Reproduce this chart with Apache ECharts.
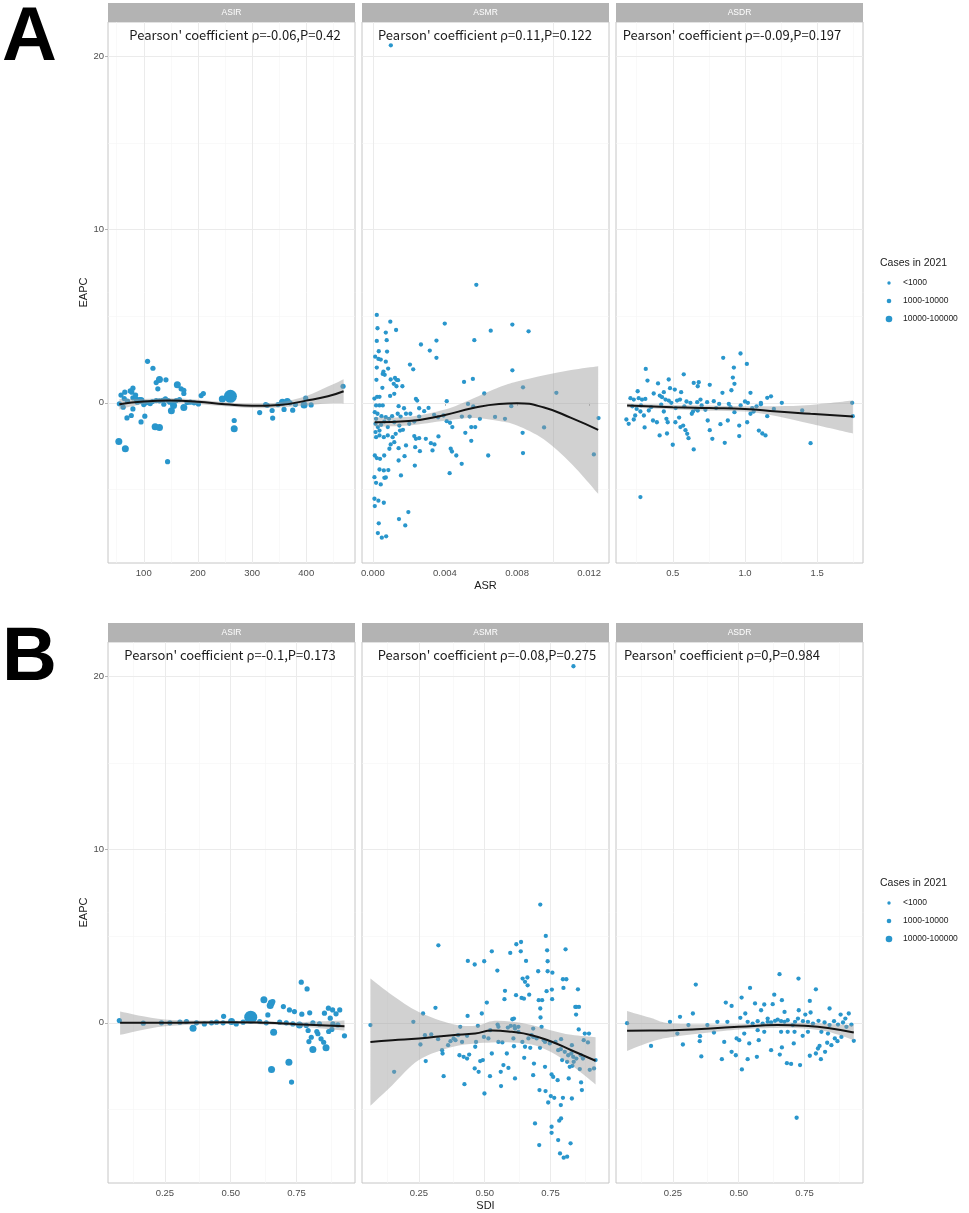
<!DOCTYPE html>
<html>
<head>
<meta charset="utf-8" />
<title>EAPC vs ASR / SDI</title>
<script src="https://cdn.jsdelivr.net/npm/echarts@6/dist/echarts.min.js"></script>
<style>
  html, body { margin: 0; padding: 0; background: #fff; }
  #chart { width: 969px; height: 1213px; }
</style>
</head>
<body>
<div id="chart"></div>
<script>
// ---------- data ----------
const panelNames = ['ASIR', 'ASMR', 'ASDR'];
const pearsonA = ["Pearson' coefficient ρ=-0.06,P=0.42", "Pearson' coefficient ρ=0.11,P=0.122", "Pearson' coefficient ρ=-0.09,P=0.197"];
const pearsonB = ["Pearson' coefficient ρ=-0.1,P=0.173", "Pearson' coefficient ρ=-0.08,P=0.275", "Pearson' coefficient ρ=0,P=0.984"];
const legendTitle = 'Cases in 2021';
const legendLabels = ['<1000', '1000-10000', '10000-100000'];

const yMajor = [0, 10, 20];
const yMinor = [-5, 5, 15];
const xMajorAsir = [100, 200, 300, 400];
const xMinorAsir = [50, 150, 250, 350, 450];
const xMajorAsmr = [0, 0.004, 0.008, 0.012];
const xMinorAsmr = [0.002, 0.006, 0.010];
const xMajorAsdr = [0.5, 1.0, 1.5];
const xMinorAsdr = [0.25, 0.75, 1.25, 1.75];
const xMajorSdi = [0.25, 0.5, 0.75];
const xMinorSdi = [0.125, 0.375, 0.625, 0.875];

// points: [x, EAPC, size class]
const asirA = [
  [54,-2.23,2],[66,-2.65,2],[55,-0.05,1],[107,2.4,1],[117,2.0,1],[129,1.35,2],[123,1.17,1],[141,1.33,1],
  [126,0.81,1],[162,1.04,2],[169,0.81,1],[174,0.73,1],[174,0.54,1],[65,0.62,1],[75,0.69,1],[80,0.85,1],
  [78,0.62,1],[64,0.25,1],[80,0.29,1],[86,0.23,1],[92,0.19,1],[95,0.13,2],[62,-0.25,1],[80,-0.35,1],
  [69,-0.87,1],[77,-0.73,1],[102,-0.77,1],[95,-1.1,1],[121,-1.38,2],[129,-1.42,2],[144,-3.4,1],[151,-0.46,2],
  [174,-0.27,2],[104,0,1],[110,0,1],[116,0.08,1],[123,0.13,1],[129,0.12,1],[135,0.15,1],[140,0.23,1],
  [145,0.13,1],[148,0.04,1],[154,0.04,1],[160,0.13,1],[166,0.19,1],[206,0.42,1],[210,0.54,1],[193,0,1],
  [201,-0.06,1],[260,0.38,3],[245,0.23,2],[267,-1.02,1],[267,-1.5,2],[314,-0.56,1],[337,-0.44,1],[338,-0.88,1],
  [356,0.04,2],[365,0.08,2],[359,-0.38,1],[375,-0.42,1],[396,-0.12,2],[399,0.27,1],[409,-0.12,1],[468,0.96,1],
  [325,-0.1,1],[328,-0.14,1],[70,0.1,1],[88,0.04,1],[100,-0.1,1],[112,-0.04,1],[137,-0.08,1],[155,-0.15,2],
  [180,0.02,1],[186,0.04,1],[370,0,1],[380,-0.1,1],[348,-0.1,1],[58,0.45,1],[85,0.45,1]
];
const asmrA = [
  [0.0010,20.65],[0.00574,6.82],
  [0.00022,5.08],[0.00097,4.69],[0.00026,4.31],[0.00129,4.21],[0.00072,4.06],[0.00022,3.58],[0.00077,3.62],
  [0.00399,4.58],[0.00774,4.52],[0.00864,4.13],[0.00654,4.17],[0.00353,3.6],[0.00563,3.62],[0.00267,3.37],
  [0.00316,3.02],[0.00353,2.6],[0.00033,2.98],[0.00079,2.96],[0.00013,2.67],[0.00031,2.54],[0.00044,2.5],
  [0.00072,2.38],[0.00022,2.04],[0.00085,1.98],[0.00206,2.21],[0.00224,1.94],[0.00774,1.88],[0.00059,1.81],
  [0.00055,1.67],[0.00066,1.62],[0.0002,1.33],[0.00099,1.35],[0.00123,1.44],[0.00131,1.33],[0.0014,1.31],
  [0.00116,1.1],[0.00053,0.87],[0.00131,0.96],[0.00164,0.96],[0.00506,1.21],[0.00555,1.38],[0.00833,0.9],
  [0.00618,0.54],[0.01018,0.58],[0.00009,0.25],[0.00024,0.35],[0.00037,0.35],[0.00096,0.4],[0.00119,0.52],
  [0.00239,0.23],[0.00246,0.13],[0.0041,0.1],[0.00018,-0.15],[0.00037,-0.15],[0.00055,-0.15],[0.00143,-0.19],
  [0.00173,-0.31],[0.00257,-0.31],[0.00309,-0.29],[0.00528,-0.06],[0.00557,-0.21],[0.00768,-0.19],
  [0.00011,-0.54],[0.00026,-0.63],[0.00048,-0.77],[0.00072,-0.83],[0.0009,-0.92],[0.00107,-0.77],[0.00138,-0.63],
  [0.00154,-0.79],[0.00184,-0.63],[0.00208,-0.63],[0.0023,-1.08],[0.00257,-0.79],[0.00285,-0.48],[0.0034,-0.69],
  [0.00362,-0.83],[0.00392,-0.73],[0.0041,-1.06],[0.00428,-1.15],[0.00441,-1.4],[0.00494,-0.79],[0.00537,-0.79],
  [0.00594,-0.92],[0.00678,-0.81],[0.00733,-0.92],[0.0095,-1.42],[0.01252,-0.88],[0.00513,-1.73],[0.00546,-1.4],
  [0.00568,-1.4],[0.00831,-1.73],[0.00015,-1.69],[0.00018,-1.98],[0.00037,-1.88],[0.00061,-1.98],[0.00083,-1.88],
  [0.0011,-1.98],[0.00127,-1.79],[0.00151,-1.6],[0.00167,-1.56],[0.00184,-2.46],[0.0023,-1.92],[0.00239,-2.08],
  [0.00257,-2.04],[0.00294,-2.08],[0.00322,-2.33],[0.00364,-1.94],[0.00235,-2.56],[0.00261,-2.79],[0.00331,-2.75],
  [0.00342,-2.4],[0.00432,-2.65],[0.00439,-2.81],[0.00463,-3.04],[0.00493,-3.52],[0.00426,-4.06],[0.00546,-2.19],
  [0.0064,-3.04],[0.00833,-2.9],[0.01226,-2.98],[0.00011,-3.04],[0.00022,-3.19],[0.0004,-3.23],[0.00063,-3.04],
  [0.00092,-2.65],[0.00099,-2.4],[0.00119,-2.27],[0.00143,-2.62],[0.00176,-3.08],[0.00143,-3.33],[0.00233,-3.62],
  [0.00156,-4.19],[0.00037,-3.85],[0.00061,-3.9],[0.00086,-3.88],[0.00009,-4.29],[0.00018,-4.62],[0.00044,-4.71],
  [0.00064,-4.33],[0.00072,-4.31],[0.00009,-5.54],[0.00031,-5.65],[0.00061,-5.77],[0.00011,-5.96],[0.00197,-6.31],
  [0.00145,-6.71],[0.0018,-7.08],[0.00033,-6.96],[0.00028,-7.52],[0.0005,-7.79],[0.00074,-7.71],
  [0.00015,-1.21],[0.00028,-1.4],[0.00046,-1.27],[0.00064,-1.08],[0.00083,-1.4],[0.00119,-1.12],[0.00147,-1.31],
  [0.00202,-1.21],[0.00018,-0.92],[0.00037,-1.6]
];
const asdrA = [
  [0.276,-5.44],[0.313,1.96],[0.325,1.29],[0.398,1.12],[0.472,1.35],[0.576,1.65],[0.481,0.85],[0.514,0.77],
  [0.558,0.62],[0.645,1.15],[0.68,1.19],[0.673,0.96],[0.756,1.04],[0.849,2.6],[0.969,2.85],[0.923,2.04],
  [0.916,1.46],[0.927,1.1],[0.906,0.73],[1.013,2.25],[1.038,0.58],[0.844,0.58],[0.784,0.1],[0.257,0.67],
  [0.207,0.27],[0.23,0.19],[0.264,0.27],[0.287,0.19],[0.31,0.23],[0.368,0.54],[0.41,0.42],[0.426,0.33],
  [0.438,0.62],[0.45,0.19],[0.472,0.13],[0.49,0],[0.53,0.13],[0.55,0.19],[0.595,0.08],[0.622,0],[0.669,0.04],
  [0.692,0.19],[0.738,0.04],[0.821,-0.06],[0.888,-0.06],[1.0,0.08],[1.02,0],[1.11,0],[1.18,0.38],[1.154,0.29],
  [1.255,0],[1.11,-0.08],[1.396,-0.44],[1.742,0],[1.746,-0.77],
  [0.179,-0.96],[0.195,-1.21],[0.23,-0.96],[0.24,-0.73],[0.276,-0.5],[0.3,-0.73],[0.305,-1.42],[0.334,-0.44],
  [0.363,-1.02],[0.39,-1.12],[0.409,-1.88],[0.438,-0.5],[0.456,-0.92],[0.465,-1.12],[0.46,-1.77],[0.5,-2.42],
  [0.518,-1.12],[0.544,-0.85],[0.553,-1.4],[0.572,-1.31],[0.588,-1.58],[0.6,-1.79],[0.609,-2.04],[0.645,-2.69],
  [0.632,-0.63],[0.64,-0.5],[0.673,-0.44],[0.726,-0.4],[0.742,-1.02],[0.756,-1.58],[0.774,-2.08],[0.83,-1.23],
  [0.86,-2.31],[0.881,-1.02],[0.927,-0.54],[0.96,-1.31],[0.96,-1.92],[1.015,-1.12],[1.038,-0.63],[1.06,-0.5],
  [1.096,-1.6],[1.12,-1.77],[1.142,-1.88],[1.154,-0.77],[1.454,-2.33],
  [0.22,-0.2],[0.25,-0.35],[0.28,-0.15],[0.35,-0.25],[0.42,-0.1],[0.52,-0.3],[0.58,-0.2],[0.66,-0.35],
  [0.7,-0.15],[0.8,-0.3],[0.9,-0.25],[0.97,-0.15],[1.05,-0.3],[1.08,-0.2],[1.2,-0.35]
];

const asirB = [
  [0.077,0.13,1],[0.768,2.35,1],[0.79,1.96,1],[0.626,1.33,2],[0.654,1.15,2],[0.65,1.0,2],[0.66,1.23,1],
  [0.70,0.94,1],[0.723,0.75,1],[0.742,0.65,1],[0.77,0.5,1],[0.8,0.58,1],[0.871,0.85,1],[0.887,0.75,1],
  [0.914,0.75,1],[0.9,0.52,1],[0.856,0.56,1],[0.878,0.27,1],[0.641,0.46,1],[0.473,0.38,1],[0.576,0.33,3],
  [0.503,0.08,2],[0.357,-0.31,2],[0.663,-0.54,2],[0.721,-2.27,2],[0.655,-2.69,2],[0.731,-3.42,1],[0.794,-0.44,1],
  [0.827,-0.5,1],[0.806,-0.83,1],[0.797,-1.08,1],[0.812,-1.54,2],[0.831,-0.63,1],[0.843,-0.92,1],[0.853,-1.12,1],
  [0.862,-1.44,2],[0.872,-0.5,1],[0.932,-0.75,1],[0.884,-0.38,1],
  [0.168,-0.02,1],[0.237,0,1],[0.269,0,1],[0.307,0.04,1],[0.332,0.08,1],[0.37,0,1],[0.4,-0.06,1],[0.427,0,1],
  [0.446,0.04,1],[0.471,0,1],[0.521,-0.06,1],[0.547,0.04,1],[0.61,0.08,1],[0.635,0,1],[0.686,0.04,1],
  [0.711,0,1],[0.736,-0.06,1],[0.761,-0.12,2],[0.787,-0.15,1],[0.812,0,1],[0.837,-0.06,1],[0.888,-0.06,1],
  [0.907,-0.12,1]
];
const asmrB = [
  [0.837,20.6],[0.711,6.83],
  [0.066,-0.13],[0.156,-2.83],[0.229,0.06],[0.266,0.54],[0.313,0.87],[0.324,4.48],[0.256,-1.25],[0.273,-0.71],
  [0.297,-0.67],[0.276,-2.21],[0.323,-0.94],[0.338,-1.58],[0.34,-1.77],[0.344,-3.08],[0.361,-1.29],[0.37,-1.06],
  [0.389,-1.0],[0.399,-0.71],[0.407,-0.23],[0.404,-1.87],[0.42,-1.96],[0.423,-3.54],[0.433,-2.06],[0.441,-1.83],
  [0.435,0.4],[0.436,3.58],[0.462,3.37],[0.464,-1.38],[0.462,-2.63],[0.474,-0.17],[0.477,-2.83],[0.483,-2.21],
  [0.489,0.54],[0.493,-2.15],[0.498,3.56],[0.499,-4.08],[0.508,1.17],[0.514,-0.9],[0.52,-3.08],[0.527,4.13],
  [0.527,-1.77],[0.548,3.02],[0.549,-0.1],[0.552,-0.23],[0.561,-2.83],[0.562,-3.65],[0.571,-2.44],[0.575,1.37],
  [0.577,1.85],[0.584,-1.77],[0.59,-2.6],[0.597,4.04],[0.599,-0.17],[0.605,0.21],[0.611,0.25],[0.609,-0.9],
  [0.611,-1.35],[0.615,-0.33],[0.619,1.6],[0.62,4.54],[0.615,-3.21],[0.628,-0.23],[0.637,4.13],[0.638,4.67],
  [0.64,1.44],[0.644,2.56],[0.649,1.4],[0.65,-2.02],[0.653,2.37],[0.657,3.58],[0.662,2.62],[0.663,2.17],
  [0.669,1.63],[0.673,-1.44],[0.678,-0.71],[0.684,-0.33],[0.684,-3.02],[0.687,-2.35],[0.691,-5.81],[0.697,-0.9],
  [0.703,2.98],[0.705,1.31],[0.711,0.83],[0.712,0.31],[0.71,-1.44],[0.707,-7.06],[0.708,-3.88],[0.718,1.31],
  [0.724,-1.0],[0.729,-2.54],[0.731,-3.94],[0.732,5.02],[0.735,1.83],[0.737,4.19],[0.739,3.56],[0.739,2.98],
  [0.741,-4.6],[0.751,-4.23],[0.754,-2.98],[0.755,1.92],[0.757,2.9],[0.756,1.37],[0.76,-3.12],[0.754,-6.0],
  [0.754,-6.35],[0.764,-4.33],[0.777,-3.31],[0.779,-1.58],[0.779,-6.77],[0.783,-5.65],[0.786,-7.54],[0.789,-4.75],
  [0.79,-5.52],[0.79,-0.94],[0.794,-2.15],[0.797,-4.33],[0.8,-7.79],[0.797,2.52],[0.799,2.02],[0.807,4.25],
  [0.81,2.52],[0.813,-7.73],[0.813,-2.25],[0.819,-3.21],[0.823,-2.54],[0.826,-6.96],[0.831,-4.37],[0.831,-1.29],
  [0.833,-2.48],[0.836,-1.96],[0.838,-2.25],[0.844,0.92],[0.847,0.48],[0.848,0.92],[0.854,1.94],[0.858,0.92],
  [0.857,-0.38],[0.861,-2.67],[0.866,-3.44],[0.869,-3.88],[0.873,-2.06],[0.876,-1.0],[0.88,-0.62],[0.892,-1.13],
  [0.896,-0.62],[0.899,-2.71],[0.915,-2.63],[0.921,-2.15],
  [0.382,-0.9],[0.414,-1.1],[0.433,-0.75],[0.467,-1.1],[0.497,-0.81],[0.521,-0.42],[0.552,-1.1],[0.567,-1.13],
  [0.588,-0.27],[0.613,-0.19],[0.628,-0.52],[0.643,-1.1],[0.653,-1.38],[0.666,-0.9],[0.684,-0.81],[0.716,-0.23],
  [0.729,-1.1],[0.747,-1.19],[0.769,-1.1],[0.789,-1.52],[0.804,-1.67],[0.817,-1.87],[0.829,-1.77],[0.848,-2.06],
  [0.865,-1.87]
];
const asdrB = [
  [0.076,-0.02],[0.167,-1.33],[0.239,0.06],[0.277,0.35],[0.267,-0.62],[0.288,-1.25],[0.309,-0.13],[0.326,0.54],
  [0.337,2.21],[0.353,-0.77],[0.352,-1.06],[0.358,-1.94],[0.381,-0.13],[0.406,-0.56],[0.419,0.06],[0.436,-2.1],
  [0.445,-1.1],[0.451,1.17],[0.457,0.06],[0.473,0.98],[0.473,-1.67],[0.489,-1.87],[0.492,-0.9],[0.502,-1.0],
  [0.506,0.29],[0.511,1.46],[0.512,-2.69],[0.521,-0.62],[0.525,0.54],[0.534,-2.1],[0.54,-1.19],[0.543,2.02],
  [0.562,1.12],[0.569,-1.96],[0.576,-1.0],[0.585,0.73],[0.597,1.06],[0.61,0.25],[0.629,1.08],[0.635,1.63],
  [0.623,-1.58],[0.655,2.81],[0.656,-1.83],[0.664,1.31],[0.664,-1.42],[0.674,0.63],[0.683,-2.33],[0.699,-2.37],
  [0.709,-1.19],[0.72,-5.48],[0.727,2.56],[0.728,0.73],[0.733,-2.44],[0.743,-0.75],[0.753,0.48],[0.77,1.27],
  [0.773,0.6],[0.77,-1.9],[0.793,1.94],[0.793,-1.77],[0.801,-1.48],[0.807,-1.33],[0.812,-2.1],[0.828,-1.67],
  [0.836,-1.15],[0.845,0.83],[0.852,-1.29],[0.887,0.48],[0.905,0.25],[0.918,0.54],[0.937,-1.04],[0.89,-0.81],
  [0.865,-0.9],[0.875,-1.06],[0.839,-0.62],[0.814,-0.52],
  [0.534,0.06],[0.553,-0.04],[0.572,0.1],[0.591,-0.04],[0.61,0.06],[0.623,0.02],[0.638,0.12],[0.648,0.19],
  [0.661,0.1],[0.674,0.06],[0.686,0.15],[0.705,-0.13],[0.714,0.06],[0.725,0.25],[0.744,0.1],[0.763,0.06],
  [0.782,-0.04],[0.803,0.12],[0.826,0.02],[0.845,-0.13],[0.862,0.1],[0.877,-0.1],[0.896,0.02],[0.909,-0.23],
  [0.928,-0.1],[0.686,-0.52],[0.661,-0.52],[0.712,-0.52],[0.763,-0.52],[0.597,-0.52],[0.572,-0.42]
];

// loess fit: [x, fit, lower, upper]
const smoothAsirA = [
  [55,-0.08,-0.38,0.22],[100,0.08,-0.07,0.23],[150,0.13,0.0,0.26],[200,0.06,-0.06,0.18],[250,-0.08,-0.2,0.04],
  [300,-0.17,-0.3,-0.04],[350,-0.12,-0.27,0.03],[400,0.13,-0.14,0.4],[440,0.38,-0.04,0.94],[469,0.67,-0.03,1.37]
];
const smoothAsmrA = [
  [0.0001,-1.12,-1.37,-0.83],[0.002,-1.05,-1.31,-0.8],[0.004,-0.7,-1.04,-0.38],[0.0055,-0.31,-0.88,0.23],
  [0.007,-0.06,-1.05,0.9],[0.008,-0.02,-1.31,1.23],[0.0095,-0.27,-2.12,1.6],[0.011,-0.87,-3.5,1.9],
  [0.0125,-1.56,-5.25,2.12]
];
const smoothAsdrA = [
  [0.184,-0.15,-0.27,-0.04],[0.5,-0.25,-0.38,-0.12],[0.75,-0.3,-0.45,-0.15],[1.0,-0.35,-0.5,-0.19],
  [1.223,-0.5,-0.77,-0.19],[1.454,-0.63,-1.21,-0.12],[1.747,-0.79,-1.77,0.13]
];
const smoothAsirB = [
  [0.08,0,-0.69,0.65],[0.25,0,-0.19,0.19],[0.5,0.04,-0.06,0.12],[0.635,0,-0.1,0.1],[0.75,-0.08,-0.19,0.04],
  [0.932,-0.19,-0.44,0.13]
];
const smoothAsmrB = [
  [0.066,-1.1,-4.79,2.56],[0.149,-1.0,-3.6,1.6],[0.25,-0.9,-2.15,0.63],[0.376,-0.71,-1.4,-0.06],
  [0.464,-0.62,-1.19,-0.17],[0.527,-0.44,-1.13,0.1],[0.603,-0.52,-1.13,0.06],[0.678,-0.71,-1.25,-0.13],
  [0.75,-1.06,-1.67,-0.42],[0.829,-1.58,-2.44,-0.69],[0.921,-2.19,-3.56,-0.83]
];
const smoothAsdrB = [
  [0.076,-0.46,-1.62,0.69],[0.165,-0.44,-1.1,0.29],[0.25,-0.42,-0.81,-0.04],[0.5,-0.23,-0.38,-0.08],
  [0.648,-0.13,-0.29,0.02],[0.75,-0.17,-0.33,0],[0.839,-0.29,-0.52,-0.06],[0.937,-0.56,-1.0,-0.13]
];

// ---------- layout ----------
const colLeft = [108, 362, 616];
const panelW = 247;
const rowTop = [22, 642];
const panelH = 541;
const stripH = 19;
const yRange = [-9.25, 22];
const pointColor = '#2996cc';
const sizeBySclass = [4.3, 5.2, 7, 13];
const pearsonX = [[235, 485, 732], [230, 487, 722]];

const panels = [
  { r: 0, c: 0, pts: asirA, fit: smoothAsirA, min: 34, max: 490, major: xMajorAsir, minor: xMinorAsir, fmt: v => String(v) },
  { r: 0, c: 1, pts: asmrA, fit: smoothAsmrA, min: -0.0006, max: 0.0131, major: xMajorAsmr, minor: xMinorAsmr, fmt: v => v.toFixed(3), name: 'ASR' },
  { r: 0, c: 2, pts: asdrA, fit: smoothAsdrA, min: 0.107, max: 1.817, major: xMajorAsdr, minor: xMinorAsdr, fmt: v => v.toFixed(1) },
  { r: 1, c: 0, pts: asirB, fit: smoothAsirB, min: 0.034, max: 0.972, major: xMajorSdi, minor: xMinorSdi, fmt: v => v.toFixed(2) },
  { r: 1, c: 1, pts: asmrB, fit: smoothAsmrB, min: 0.034, max: 0.972, major: xMajorSdi, minor: xMinorSdi, fmt: v => v.toFixed(2), name: 'SDI' },
  { r: 1, c: 2, pts: asdrB, fit: smoothAsdrB, min: 0.034, max: 0.972, major: xMajorSdi, minor: xMinorSdi, fmt: v => v.toFixed(2) }
];

const tickText = { fontFamily: 'Liberation Sans', fontSize: 9.5, color: '#4d4d4d' };
const majorLine = { color: '#ebebeb', width: 1, type: 'solid' };
const minorLine = { color: '#f5f5f5', width: 0.6, type: 'solid' };

// smooth path (Catmull-Rom) through pixel points
function splinePath(pts, moveFirst) {
  let d = (moveFirst ? 'M' : 'L') + pts[0][0] + ',' + pts[0][1];
  for (let i = 0; i < pts.length - 1; i++) {
    const p0 = pts[Math.max(i - 1, 0)], p1 = pts[i], p2 = pts[i + 1], p3 = pts[Math.min(i + 2, pts.length - 1)];
    const c1 = [p1[0] + (p2[0] - p0[0]) / 6, p1[1] + (p2[1] - p0[1]) / 6];
    const c2 = [p2[0] - (p3[0] - p1[0]) / 6, p2[1] - (p3[1] - p1[1]) / 6];
    d += 'C' + c1[0] + ',' + c1[1] + ' ' + c2[0] + ',' + c2[1] + ' ' + p2[0] + ',' + p2[1];
  }
  return d;
}

const grid = [], xAxis = [], yAxis = [], series = [], graphic = [];

panels.forEach(function (p, i) {
  const left = colLeft[p.c], top = rowTop[p.r];
  grid.push({ left: left, top: top, width: panelW, height: panelH, show: true,
    containLabel: false, outerBoundsMode: 'none',
    borderColor: '#c6c6c6', borderWidth: 1, backgroundColor: '#fff' });

  xAxis.push({
    type: 'value', gridIndex: i, min: p.min, max: p.max,
    name: p.name || '', nameLocation: 'middle', nameGap: 17,
    nameTextStyle: { fontFamily: 'Liberation Sans', fontSize: 11, color: '#1a1a1a' },
    axisLine: { show: false },
    axisTick: { show: true, customValues: p.major, length: 3, lineStyle: { color: '#b3b3b3' } },
    axisLabel: Object.assign({ customValues: p.major, margin: 5, formatter: p.fmt }, tickText),
    splitLine: { show: false }
  });
  yAxis.push({
    type: 'value', gridIndex: i, min: yRange[0], max: yRange[1],
    name: p.c === 0 ? 'EAPC' : '', nameLocation: 'middle', nameGap: 17,
    nameTextStyle: { fontFamily: 'Liberation Sans', fontSize: 11, color: '#1a1a1a' },
    axisLine: { show: false },
    axisTick: { show: p.c === 0, customValues: yMajor, length: 3, lineStyle: { color: '#b3b3b3' } },
    axisLabel: Object.assign({ show: p.c === 0, customValues: yMajor, margin: 4 }, tickText),
    splitLine: { show: false }
  });

  const gridLines = []
    .concat(p.minor.map(v => ({ xAxis: v, lineStyle: minorLine })))
    .concat(yMinor.map(v => ({ yAxis: v, lineStyle: minorLine })))
    .concat(p.major.map(v => ({ xAxis: v, lineStyle: majorLine })))
    .concat(yMajor.map(v => ({ yAxis: v, lineStyle: majorLine })));

  series.push({
    type: 'scatter', xAxisIndex: i, yAxisIndex: i, z: 2, silent: true,
    data: p.pts,
    symbolSize: function (val) { return sizeBySclass[val[2] || 0]; },
    itemStyle: { color: pointColor, opacity: 1 },
    markLine: { silent: true, z: 1, symbol: 'none', label: { show: false }, animation: false, data: gridLines }
  });

  // confidence band: one closed smooth path through upper edge, back along lower edge
  const fit = p.fit;
  series.push({
    type: 'custom', xAxisIndex: i, yAxisIndex: i, z: 3, silent: true, clip: true,
    data: [[fit[0][0], fit[0][1]]],
    renderItem: function (params, api) {
      const upper = fit.map(d => api.coord([d[0], d[3]]));
      const lower = fit.map(d => api.coord([d[0], d[2]])).reverse();
      const d = splinePath(upper, true) + splinePath(lower, false) + 'Z';
      return { type: 'path', shape: { pathData: d }, style: { fill: 'rgba(153,153,153,0.45)', stroke: null } };
    }
  });
  series.push({
    type: 'line', xAxisIndex: i, yAxisIndex: i, z: 4, silent: true,
    data: fit.map(d => [d[0], d[1]]), smooth: true, showSymbol: false, symbol: 'none',
    lineStyle: { color: '#141414', width: 2 }
  });

  // facet strip
  graphic.push({ type: 'rect', shape: { x: left, y: top - stripH, width: panelW, height: stripH },
    style: { fill: '#b3b3b3' }, silent: true });
  graphic.push({ type: 'text', x: left + panelW / 2, y: top - stripH / 2,
    style: { text: panelNames[p.c], fill: '#ffffff', font: '8.5px "Liberation Sans"', align: 'center', verticalAlign: 'middle' },
    silent: true });
  // correlation note
  graphic.push({ type: 'text', x: pearsonX[p.r][p.c], y: top + 13, z: 10,
    style: { text: (p.r === 0 ? pearsonA : pearsonB)[p.c], fill: '#1a1a1a',
      font: '13px "Noto Sans CJK SC"', align: 'center', verticalAlign: 'middle' },
    silent: true });
});

// panel letters and legends
['A', 'B'].forEach(function (letter, r) {
  const off = rowTop[r] - rowTop[0];
  graphic.push({ type: 'text', x: 2, y: 39 + off,
    style: { text: letter, fill: '#000', font: 'bold 76px "Liberation Sans"', align: 'left', verticalAlign: 'middle' },
    silent: true });
  graphic.push({ type: 'text', x: 880, y: 263 + off,
    style: { text: legendTitle, fill: '#1a1a1a', font: '10.5px "Liberation Sans"', align: 'left', verticalAlign: 'middle' },
    silent: true });
  legendLabels.forEach(function (lab, k) {
    const yy = 283 + off + k * 18;
    graphic.push({ type: 'circle', shape: { cx: 889, cy: yy, r: [1.7, 2.3, 3.3][k] },
      style: { fill: pointColor }, silent: true });
    graphic.push({ type: 'text', x: 903, y: yy,
      style: { text: lab, fill: '#1a1a1a', font: '8.5px "Liberation Sans"', align: 'left', verticalAlign: 'middle' },
      silent: true });
  });
});

const chart = echarts.init(document.getElementById('chart'));
chart.setOption({
  animation: false,
  backgroundColor: '#ffffff',
  grid: grid,
  xAxis: xAxis,
  yAxis: yAxis,
  series: series,
  graphic: graphic
});
</script>
</body>
</html>
